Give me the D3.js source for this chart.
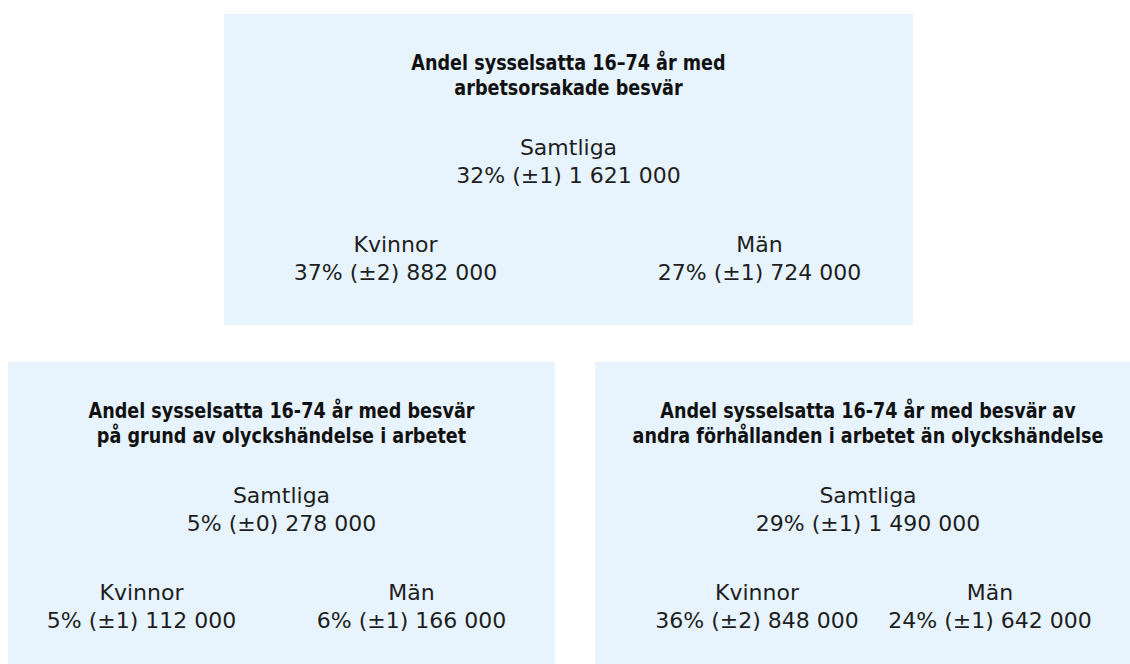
<!DOCTYPE html>
<html>
<head>
<meta charset="utf-8">
<script src="https://cdn.jsdelivr.net/npm/d3@7"></script>
<style>
  body { margin: 0; background: #fff; }
  .title { font-family: "DejaVu Sans Condensed", "DejaVu Sans", sans-serif; font-stretch: condensed; font-weight: bold; font-size: 21.5px; fill: #111; }
  .val { font-family: "DejaVu Sans", sans-serif; font-size: 22px; fill: #1e1e1e; }
</style>
</head>
<body>
<div class="canvas"></div>
<script>
// data
const titles = [
  ["Andel sysselsatta 16–74 år med", "arbetsorsakade besvär"],
  ["Andel sysselsatta 16-74 år med besvär", "på grund av olyckshändelse i arbetet"],
  ["Andel sysselsatta 16-74 år med besvär av", "andra förhållanden i arbetet än olyckshändelse"]
];
const groups = ["Samtliga", "Kvinnor", "Män"];
const shares = [[32, 37, 27], [5, 5, 6], [29, 36, 24]];
const errors = [[1, 2, 1], [0, 1, 1], [1, 2, 1]];
const counts = [[1621000, 882000, 724000], [278000, 112000, 166000], [1490000, 848000, 642000]];

// boxarnas placering och kolumnernas forskjutning for Kvinnor / Män
const boxes = [
  { x0: 224, x1: 913, y0: 14, y1: 325, left: -173, right: 191 },
  { x0: 8, x1: 555, y0: 362, y1: 680, left: -140, right: 130 },
  { x0: 595, x1: 1141, y0: 362, y1: 680, left: -111, right: 122 }
];

const dims = { width: 1130, height: 664 };

const svg = d3.select('.canvas')
  .append('svg')
  .attr('width', dims.width)
  .attr('height', dims.height);

// svenska tusental med mellanslag
const sv = d3.formatLocale({ decimal: ",", thousands: " ", grouping: [3], currency: ["", " kr"] });
const fmt = sv.format(",");

const cards = svg.selectAll('g.card')
  .data(titles.map((t, i) => ({ title: t, box: boxes[i], i })))
  .enter()
  .append('g')
    .attr('class', 'card')
    .attr('transform', d => `translate(0, ${d.box.y0})`);

cards.append('rect')
  .attr('x', d => d.box.x0)
  .attr('y', 0)
  .attr('width', d => d.box.x1 - d.box.x0)
  .attr('height', d => d.box.y1 - d.box.y0)
  .attr('fill', '#e7f4fd');

cards.each(function(d) {
  const g = d3.select(this);
  const cx = (d.box.x0 + d.box.x1) / 2;

  // rubrik, lite hopträngd
  g.append('g')
    .attr('transform', `translate(${cx}, 0) scale(0.91, 1)`)
    .selectAll('text.title')
    .data(d.title)
    .enter()
    .append('text')
      .attr('class', 'title')
      .attr('text-anchor', 'middle')
      .attr('x', 0)
      .attr('y', (t, j) => 56 + j * 25)
      .text(t => t);

  const cols = [cx, cx + d.box.left, cx + d.box.right];
  const rows = [141, 238, 238];

  groups.forEach((name, k) => {
    g.append('text')
      .attr('class', 'val')
      .attr('text-anchor', 'middle')
      .attr('x', cols[k])
      .attr('y', rows[k])
      .text(name);
    g.append('text')
      .attr('class', 'val')
      .attr('text-anchor', 'middle')
      .attr('x', cols[k])
      .attr('y', rows[k] + 28)
      .text(`${shares[d.i][k]}% (±${errors[d.i][k]}) ${fmt(counts[d.i][k])}`);
  });
});
</script>
</body>
</html>
